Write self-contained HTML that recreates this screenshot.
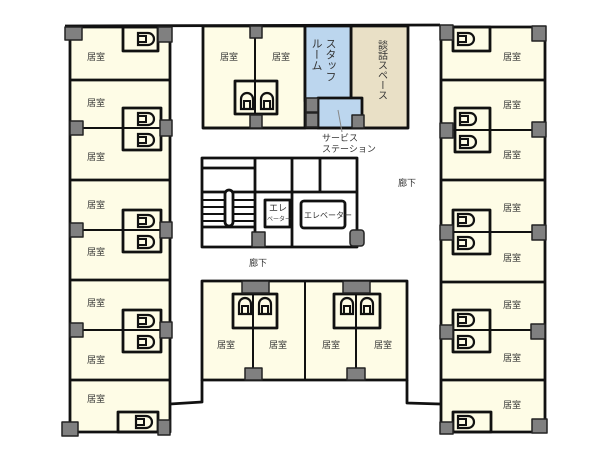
<!DOCTYPE html>
<html><head><meta charset="utf-8"><style>
html,body{margin:0;padding:0;background:#fff;}
svg{display:block}
text{font-family:"Liberation Sans","Noto Sans CJK JP",sans-serif;fill:#333;}
</style></head><body>
<svg width="600" height="460" viewBox="0 0 600 460" xmlns="http://www.w3.org/2000/svg">
<defs>
<g id="tr"><path d="M0,0 h10 a6,6 0 0 1 0,12 h-10 z" fill="none" stroke="#111" stroke-width="2.2"/><rect x="0" y="3" width="8" height="6" fill="none" stroke="#111" stroke-width="2"/></g>
<g id="tu"><path d="M0,16 v-10 a6,6 0 0 1 12,0 v10 z" fill="none" stroke="#111" stroke-width="2.2"/><rect x="3" y="8" width="6" height="8" fill="none" stroke="#111" stroke-width="2"/></g>
</defs>
<g stroke="#111" stroke-width="2.8" stroke-linejoin="round">
<!-- left column -->
<rect x="70" y="27" width="100" height="405" fill="#fefce6"/>
<line x1="70" y1="80" x2="170" y2="80"/>
<line x1="70" y1="180" x2="170" y2="180"/>
<line x1="70" y1="280" x2="170" y2="280"/>
<line x1="70" y1="380" x2="170" y2="380"/>
<line x1="78" y1="128" x2="165" y2="128" stroke-width="2"/>
<line x1="78" y1="230" x2="165" y2="230" stroke-width="2"/>
<line x1="78" y1="330" x2="165" y2="330" stroke-width="2"/>
<rect x="123" y="27" width="35" height="24" fill="none"/>
<rect x="123" y="108" width="38" height="42" fill="none"/>
<rect x="123" y="210" width="38" height="42" fill="none"/>
<rect x="123" y="310" width="38" height="42" fill="none"/>
<rect x="118" y="412" width="40" height="20" fill="none"/>
<!-- right column -->
<rect x="441" y="27" width="104" height="405" fill="#fefce6"/>
<line x1="441" y1="80" x2="545" y2="80"/>
<line x1="441" y1="180" x2="545" y2="180"/>
<line x1="441" y1="282" x2="545" y2="282"/>
<line x1="441" y1="380" x2="545" y2="380"/>
<line x1="450" y1="130" x2="540" y2="130" stroke-width="2"/>
<line x1="450" y1="232" x2="540" y2="232" stroke-width="2"/>
<line x1="450" y1="330" x2="540" y2="330" stroke-width="2"/>
<rect x="453" y="27" width="37" height="24" fill="none"/>
<rect x="455" y="108" width="35" height="44" fill="none"/>
<rect x="453" y="210" width="37" height="44" fill="none"/>
<rect x="453" y="310" width="37" height="42" fill="none"/>
<rect x="453" y="412" width="38" height="20" fill="none"/>
<!-- top line -->
<line x1="65" y1="26" x2="440" y2="25"/>
<!-- center top -->
<rect x="203" y="26" width="102" height="102" fill="#fefce6"/>
<rect x="351" y="26" width="57" height="102" fill="#e9e0c6"/>
<rect x="305" y="26" width="46" height="75" fill="#bcd6ee"/>
<path d="M318,98 H362 V128 H318 Z" fill="#bcd6ee"/>
<line x1="203" y1="128" x2="408" y2="128"/>
<line x1="255" y1="30" x2="255" y2="126" stroke-width="2"/>
<rect x="235" y="81" width="42" height="33" fill="none"/>
<line x1="338" y1="110" x2="342" y2="132" stroke="#888" stroke-width="1"/>
<!-- elevator block -->
<rect x="202" y="158" width="155" height="89" fill="#fff"/>
<line x1="255" y1="158" x2="255" y2="247"/>
<line x1="292" y1="158" x2="292" y2="247"/>
<line x1="320" y1="158" x2="320" y2="192"/>
<line x1="255" y1="192" x2="357" y2="192"/>
<line x1="202" y1="168" x2="255" y2="168"/>
<line x1="202" y1="192" x2="255" y2="192"/>
<line x1="202" y1="200" x2="255" y2="200" stroke-width="2"/>
<line x1="202" y1="207" x2="255" y2="207" stroke-width="2"/>
<line x1="202" y1="214" x2="255" y2="214" stroke-width="2"/>
<line x1="202" y1="221" x2="255" y2="221" stroke-width="2"/>
<line x1="202" y1="227" x2="255" y2="227"/>
<rect x="225" y="190" width="8" height="36" rx="4" fill="#fff"/>
<rect x="265" y="200" width="25" height="27" fill="#fff"/>
<rect x="301" y="201" width="44" height="27" rx="3" fill="#fff"/>
<!-- bottom center -->
<rect x="202" y="281" width="205" height="99" fill="#fefce6"/>
<line x1="305" y1="281" x2="305" y2="380" stroke-width="2"/>
<line x1="253" y1="285" x2="253" y2="370" stroke-width="2"/>
<line x1="356" y1="285" x2="356" y2="370" stroke-width="2"/>
<rect x="233" y="294" width="44" height="34" fill="none"/>
<rect x="334" y="294" width="46" height="34" fill="none"/>
<polyline points="202,380 202,402 170,404" fill="none"/>
<polyline points="407,380 407,403 440,404" fill="none"/>
<!-- gray squares -->
<g fill="#808080" stroke="#222" stroke-width="1.5">
<rect x="65" y="27" width="17" height="13"/><rect x="158" y="27" width="14" height="15"/>
<rect x="70" y="121" width="13" height="14"/><rect x="160" y="120" width="12" height="16"/>
<rect x="70" y="223" width="13" height="14"/><rect x="160" y="222" width="12" height="16"/>
<rect x="70" y="323" width="13" height="14"/><rect x="160" y="322" width="12" height="16"/>
<rect x="62" y="422" width="16" height="14"/><rect x="158" y="420" width="12" height="15"/>
<rect x="440" y="25" width="13" height="15"/><rect x="532" y="26" width="14" height="15"/>
<rect x="440" y="123" width="13" height="15"/><rect x="532" y="122" width="14" height="15"/>
<rect x="440" y="225" width="13" height="15"/><rect x="532" y="225" width="14" height="15"/>
<rect x="440" y="325" width="13" height="14"/><rect x="531" y="324" width="14" height="15"/>
<rect x="440" y="422" width="13" height="12"/><rect x="532" y="419" width="15" height="14"/>
<rect x="250" y="26" width="12" height="12"/><rect x="250" y="115" width="12" height="13"/>
<rect x="306" y="98" width="12" height="14"/><rect x="306" y="113" width="12" height="14"/>
<rect x="352" y="115" width="12" height="13"/>
<rect x="252" y="232" width="13" height="15"/><rect x="350" y="230" width="14" height="16" rx="3"/>
<rect x="242" y="281" width="27" height="12"/><rect x="343" y="281" width="27" height="12"/>
<rect x="245" y="368" width="17" height="12"/><rect x="347" y="368" width="18" height="12"/>
</g>
</g>
<!-- toilets -->
<use href="#tr" x="138" y="33"/>
<use href="#tr" x="138" y="113"/><use href="#tr" x="138" y="134"/>
<use href="#tr" x="138" y="215"/><use href="#tr" x="138" y="236"/>
<use href="#tr" x="138" y="315"/><use href="#tr" x="138" y="336"/>
<use href="#tr" x="136" y="416"/>
<use href="#tr" x="458" y="33"/>
<use href="#tr" x="460" y="113"/><use href="#tr" x="460" y="136"/>
<use href="#tr" x="458" y="214"/><use href="#tr" x="458" y="237"/>
<use href="#tr" x="458" y="314"/><use href="#tr" x="458" y="336"/>
<use href="#tr" x="458" y="416"/>
<use href="#tu" x="241" y="93"/><use href="#tu" x="261" y="93"/>
<use href="#tu" x="239" y="298"/><use href="#tu" x="259" y="298"/>
<use href="#tu" x="341" y="298"/><use href="#tu" x="361" y="298"/>
<!-- labels -->
<g font-size="9">
<text x="87" y="60">居室</text><text x="87" y="106">居室</text><text x="87" y="160">居室</text>
<text x="87" y="208">居室</text><text x="87" y="255">居室</text><text x="87" y="306">居室</text>
<text x="87" y="363">居室</text><text x="87" y="402">居室</text>
<text x="503" y="60">居室</text><text x="503" y="108">居室</text><text x="503" y="158">居室</text>
<text x="503" y="211">居室</text><text x="503" y="261">居室</text><text x="503" y="308">居室</text>
<text x="503" y="361">居室</text><text x="503" y="408">居室</text>
<text x="220" y="60">居室</text><text x="272" y="60">居室</text>
<text x="217" y="348">居室</text><text x="269" y="348">居室</text>
<text x="322" y="348">居室</text><text x="374" y="348">居室</text>
<text x="398" y="186">廊下</text><text x="249" y="266">廊下</text>
<text x="322" y="141">サービス</text><text x="322" y="152">ステーション</text>
<text x="269" y="211">エレ</text>
<text x="267" y="221" font-size="6">ベーター</text>
<text x="304" y="218" font-size="8">エレベーター</text>
</g>
<g font-size="11">
<text x="330" y="38" writing-mode="tb">スタッフ</text>
<text x="316" y="38" writing-mode="tb">ルーム</text>
<text x="381" y="40" writing-mode="tb" font-size="10">談話スペース</text>
</g>
</svg>
</body></html>
